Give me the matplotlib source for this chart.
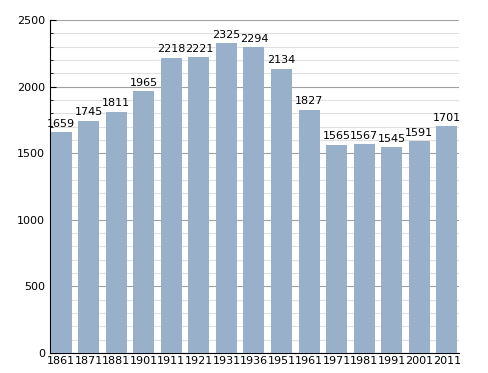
import matplotlib.pyplot as plt
import numpy as np

years = ["1861", "1871", "1881", "1901", "1911", "1921", "1931", "1936",
         "1951", "1961", "1971", "1981", "1991", "2001", "2011"]
population = [1659, 1745, 1811, 1965, 2218, 2221, 2325, 2294,
              2134, 1827, 1565, 1567, 1545, 1591, 1701]

fig = plt.figure(figsize=(4.88, 3.73), dpi=100)
ax = fig.add_axes([0.1025, 0.0536, 0.8381, 0.8928])

x = np.arange(len(years))
ax.bar(x, population, width=0.76, color="#98b0c9", zorder=3)
for xi, v in zip(x, population):
    ax.text(xi, v + 25, str(v), ha="center", va="bottom", fontsize=8, zorder=4)

ax.set_xlim(-0.40, 14.44)
ax.set_ylim(0, 2500)
ax.set_xticks(x)
ax.set_xticklabels(years, fontsize=8)
ax.set_yticks(np.arange(0, 2501, 500))
ax.set_yticks(np.arange(0, 2501, 100), minor=True)
ax.tick_params(axis="y", labelsize=8, length=4, direction="in")
ax.tick_params(axis="y", which="minor", length=2, direction="in")
ax.tick_params(axis="x", length=0, pad=2)
ax.grid(axis="y", which="major", color="#a0a0a0", linewidth=0.8, zorder=1)
ax.grid(axis="y", which="minor", color="#e0e0e0", linewidth=0.8, zorder=0)
for s in ["top", "right"]:
    ax.spines[s].set_visible(False)

fig.savefig("out.png", dpi=100)
